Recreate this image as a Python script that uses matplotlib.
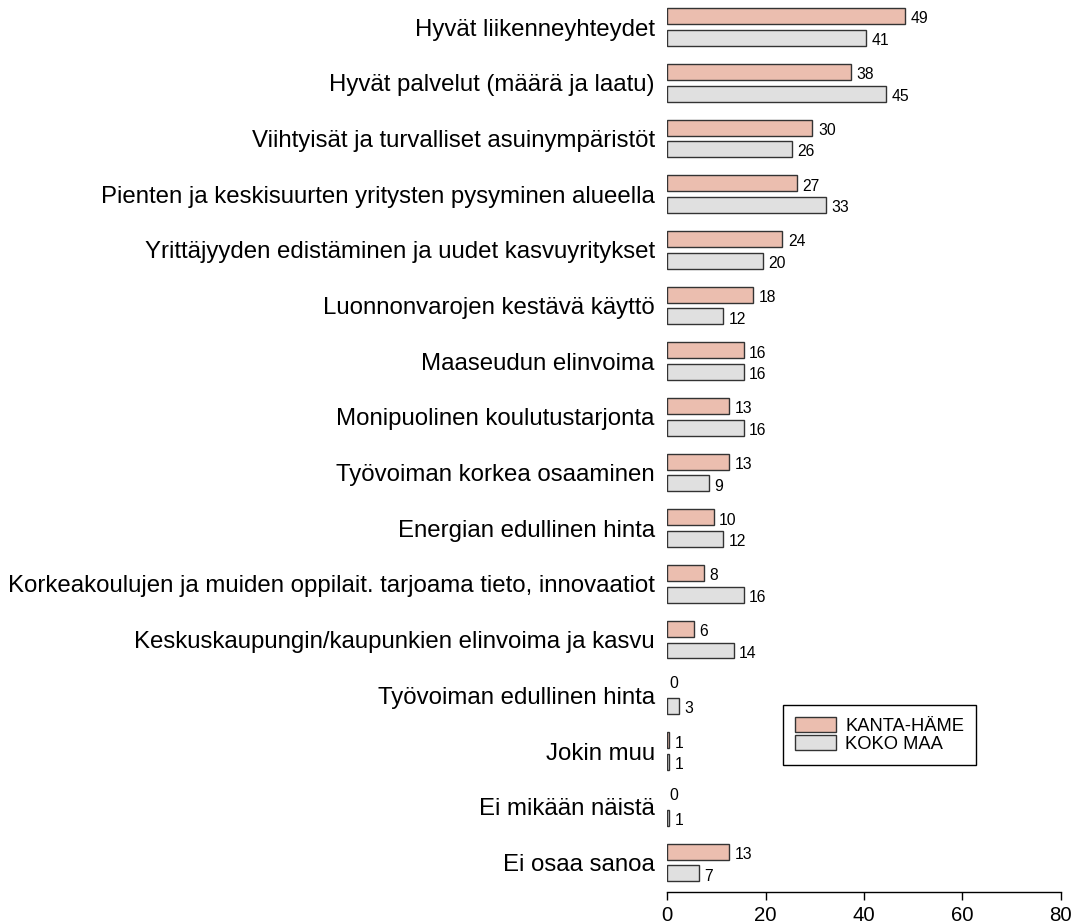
import numpy as np
import matplotlib
matplotlib.use('Agg')
from matplotlib import pyplot as plt

plt.rcParams['font.family'] = ['Liberation Sans', 'DejaVu Sans']

categories = [
    'Hyvät liikenneyhteydet',
    'Hyvät palvelut (määrä ja laatu)',
    'Viihtyisät ja turvalliset asuinympäristöt',
    'Pienten ja keskisuurten yritysten pysyminen alueella',
    'Yrittäjyyden edistäminen ja uudet kasvuyritykset',
    'Luonnonvarojen kestävä käyttö',
    'Maaseudun elinvoima',
    'Monipuolinen koulutustarjonta',
    'Työvoiman korkea osaaminen',
    'Energian edullinen hinta',
    'Korkeakoulujen ja muiden oppilait. tarjoama tieto, innovaatiot',
    'Keskuskaupungin/kaupunkien elinvoima ja kasvu',
    'Työvoiman edullinen hinta',
    'Jokin muu',
    'Ei mikään näistä',
    'Ei osaa sanoa',
]
kanta_hame = [48.4, 37.3, 29.5, 26.4, 23.4, 17.4, 15.5, 12.5, 12.5, 9.4, 7.5, 5.4, 0, 0.4, 0, 12.5]
koko_maa = [40.4, 44.4, 25.3, 32.3, 19.4, 11.4, 15.5, 15.5, 8.5, 11.4, 15.5, 13.5, 2.4, 0.4, 0.4, 6.4]
kanta_hame_labels = [49, 38, 30, 27, 24, 18, 16, 13, 13, 10, 8, 6, 0, 1, 0, 13]
koko_maa_labels = [41, 45, 26, 33, 20, 12, 16, 16, 9, 12, 16, 14, 3, 1, 1, 7]

series_names = ['KANTA-HÄME', 'KOKO MAA']
colors = ['#EBBEAF', '#E0E0E0']
edge = '#333333'

fig = plt.figure(figsize=(10.74, 9.23), dpi=100)
ax = fig.add_axes([667.3 / 1074, 31 / 923, (1060.7 - 667.3) / 1074, 892 / 923])

y = -np.arange(len(categories))
off = 0.194
h = 0.287

for vals, labels, dy, col, name in [
        (kanta_hame, kanta_hame_labels, off, colors[0], series_names[0]),
        (koko_maa, koko_maa_labels, -off, colors[1], series_names[1])]:
    vals = np.array(vals)
    lw = np.where(vals == 0, 0.0, 1.0)
    ax.barh(y + dy, vals, height=h, color=col, edgecolor=edge,
            linewidth=lw, label=name)
    for yi, v, lab in zip(y + dy, vals, labels):
        if v == 0:
            ax.annotate(str(lab), (v, yi), xytext=(1.5, 0.5), textcoords='offset points',
                        ha='left', va='center', fontsize=11.3)
        else:
            ax.annotate(str(lab), (v, yi), xytext=(4, -2), textcoords='offset points',
                        ha='left', va='center', fontsize=11.3)

ax.set_xlim(0, 80)
ax.set_ylim(-15.53, 0.485)
ax.set_yticks(y)
ax.set_yticklabels(categories, fontsize=17.25)
ax.tick_params(axis='y', length=0, pad=9)
ax.set_xticks([0, 20, 40, 60, 80])
ax.tick_params(axis='x', labelsize=14.7, length=6, width=1, pad=4)
for s in ['top', 'right', 'left']:
    ax.spines[s].set_visible(False)
ax.spines['bottom'].set_bounds(0, 80)
ax.spines['bottom'].set_linewidth(1)
ax.set_facecolor('none')

leg = ax.legend(loc='upper left', bbox_to_anchor=(783 / 1074, 1 - 705 / 923),
                bbox_transform=fig.transFigure, borderaxespad=0, fontsize=13.2,
                fancybox=False, edgecolor='black', framealpha=1,
                handlelength=2.25, handleheight=0.85, handletextpad=0.5,
                labelspacing=0.05, borderpad=0.65)
leg.get_frame().set_linewidth(1)

fig.savefig('out.png', dpi=100)
